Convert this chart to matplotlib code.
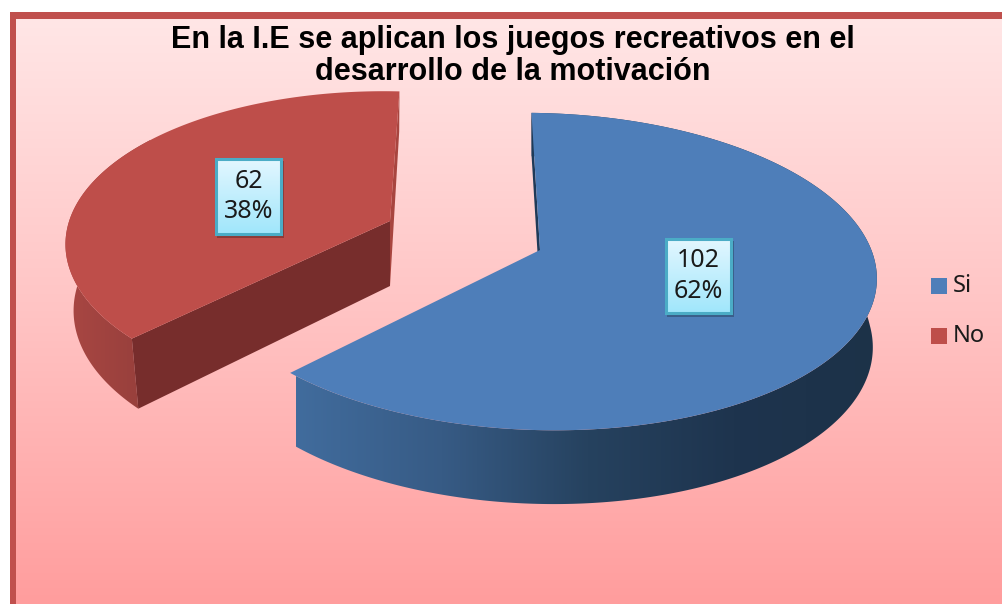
#!/usr/bin/env python3
# -*- coding: utf-8 -*-
import matplotlib
matplotlib.use('Agg')
import matplotlib.pyplot as plt
import numpy as np
from matplotlib.colors import LinearSegmentedColormap
from matplotlib.patches import Polygon, Rectangle

title = 'En la I.E se aplican los juegos recreativos en el\ndesarrollo de la motivación'
categories = ['Si', 'No']
values = [102, 62]
percents = ['62%', '38%']

W, H = 1003, 604
START = -2.0


def project(deg, g):
    t = np.radians(deg)
    s, c = np.sin(t), np.cos(t)
    d = 1 + g['k'] * c
    x = g['cx'] + (g['rx'] * s + g['shx'] * c) / d
    y = g['cy'] - (g['ry'] * c + g['shy'] * s) / d
    return x, y


def drop(x, y, deg, g):
    # bottom rim of the slab: lower and pulled a little towards the apex
    t = np.radians(deg)
    cd = np.cos(t) / (1 + g['k'] * np.cos(t))
    h = g['h'] - g['far'] * np.maximum(cd, 0) - g['near'] * np.minimum(cd, 0)
    return g['cx'] + (x - g['cx']) * g['pull'], y + h


def gradient(ax, clip, extent, colors, vertical=False):
    cmap = LinearSegmentedColormap.from_list('g', colors)
    ramp = np.linspace(0, 1, 256)
    ramp = ramp.reshape(-1, 1) if vertical else ramp.reshape(1, -1)
    im = ax.imshow(ramp, cmap=cmap, vmin=0, vmax=1, extent=extent, aspect='auto',
                   interpolation='bilinear', zorder=clip.get_zorder())
    if clip.axes is None:
        ax.add_patch(clip)
    im.set_clip_path(clip)
    return im


def draw_box(ax, x0, y0, x1, y1, lines):
    ax.add_patch(Rectangle((x0 + 2, y0 + 3), x1 - x0, y1 - y0, fc='#000000', alpha=0.25, lw=0, zorder=8))
    box = Rectangle((x0, y0), x1 - x0, y1 - y0, fc='none', ec='none', zorder=9)
    gradient(ax, box, (x0, x1, y1, y0), ['#e4f7ff', '#9fe6fb'], vertical=True)
    ax.add_patch(Rectangle((x0 + 1, y0 + 1), x1 - x0 - 2, y1 - y0 - 2, fc='none', ec='#4bacc6', lw=2.2, zorder=10))
    ax.text((x0 + x1) / 2, (y0 + y1) / 2, lines, ha='center', va='center', fontsize=18,
            family='Noto Sans', color='#1a1a1a', linespacing=1.3, zorder=11)


fig = plt.figure(figsize=(W / 100, H / 100), dpi=100, facecolor='white')
ax = fig.add_axes([0, 0, 1, 1])

# chart area and its border
bg = Rectangle((16, 18), W - 16, H - 18, fc='none', ec='none', zorder=1)
gradient(ax, bg, (16, W, H, 18), ['#ffe6e6', '#ffc4c4', '#ff9d9d'], vertical=True)
ax.add_patch(Rectangle((10, 12), 6.5, H - 12, fc='#c0504d', lw=0, zorder=2))
ax.add_patch(Rectangle((10, 12), W - 10, 6.5, fc='#c0504d', lw=0, zorder=2))

span = [v / sum(values) * 360 for v in values]

# blue slice
gb = dict(cx=540, cy=250, rx=334, ry=155.6, k=0.136, shx=2, shy=-8, h=68, far=28, near=5, pull=0.988)
ang = np.linspace(START, START + span[0], 300)
tx, ty = project(ang, gb)
bx, by = drop(tx, ty, ang, gb)
wall = Polygon(np.r_[np.c_[tx, ty], np.c_[bx, by][::-1]], fc='none', ec='none', zorder=3)
gradient(ax, wall, (296, 880, 520, 100), ['#416c9d', '#375b85', '#26425f', '#1e344e', '#1c3248'])
ax.add_patch(Polygon([(tx[0], ty[0]), (gb['cx'], gb['cy']), drop(gb['cx'], gb['cy'], 0, gb),
                      drop(tx[0], ty[0], START, gb)], fc='#1f3a58', lw=0, zorder=3))
ax.add_patch(Polygon(np.r_[[(gb['cx'], gb['cy'])], np.c_[tx, ty]], fc='#4e7eb9', lw=0, zorder=4))

# red slice, pulled out of the pie
gr = dict(cx=390, cy=221, rx=316, ry=150, k=0.16, shx=22, shy=-12, h=65, far=29, near=6, pull=0.975)
ang = np.linspace(START + span[0], START + span[0] + span[1], 300)
tx, ty = project(ang, gr)
bx, by = drop(tx, ty, ang, gr)
wall = Polygon(np.r_[np.c_[tx, ty], np.c_[bx, by][::-1]], fc='none', ec='none', zorder=3)
gradient(ax, wall, (60, 150, 420, 90), ['#aa4744', '#963f3b'])
ax.add_patch(Polygon([(tx[-1], ty[-1]), (gr['cx'], gr['cy']), drop(gr['cx'], gr['cy'], 90, gr),
                      drop(tx[-1], ty[-1], ang[-1], gr)], fc='#a8453f', lw=0, zorder=3))
ax.add_patch(Polygon([(tx[0], ty[0]), (gr['cx'], gr['cy']), drop(gr['cx'], gr['cy'], 90, gr),
                      (bx[0], by[0])], fc='#772d2c', lw=0, zorder=4))
ax.add_patch(Polygon(np.r_[[(gr['cx'], gr['cy'])], np.c_[tx, ty]], fc='#be4e4a', lw=0, zorder=5))

# data labels
draw_box(ax, 665, 238, 732, 314, '{}\n{}'.format(values[0], percents[0]))
draw_box(ax, 215, 158, 282, 235, '{}\n{}'.format(values[1], percents[1]))

# legend
for y, name, color in zip([278, 328], categories, ['#4e7eb9', '#be4e4a']):
    ax.add_patch(Rectangle((931, y), 16, 16, fc=color, lw=0, zorder=6))
    ax.text(953, y + 8, name, ha='left', va='center', fontsize=17, family='Noto Sans',
            color='#1a1a1a', zorder=6)

ax.text(513, 56, title, ha='center', va='center', fontsize=22, fontweight='bold',
        family='Liberation Sans', color='black', linespacing=1.07, zorder=6)

ax.set_xlim(0, W)
ax.set_ylim(H, 0)
ax.axis('off')
fig.savefig('out.png', dpi=100)
